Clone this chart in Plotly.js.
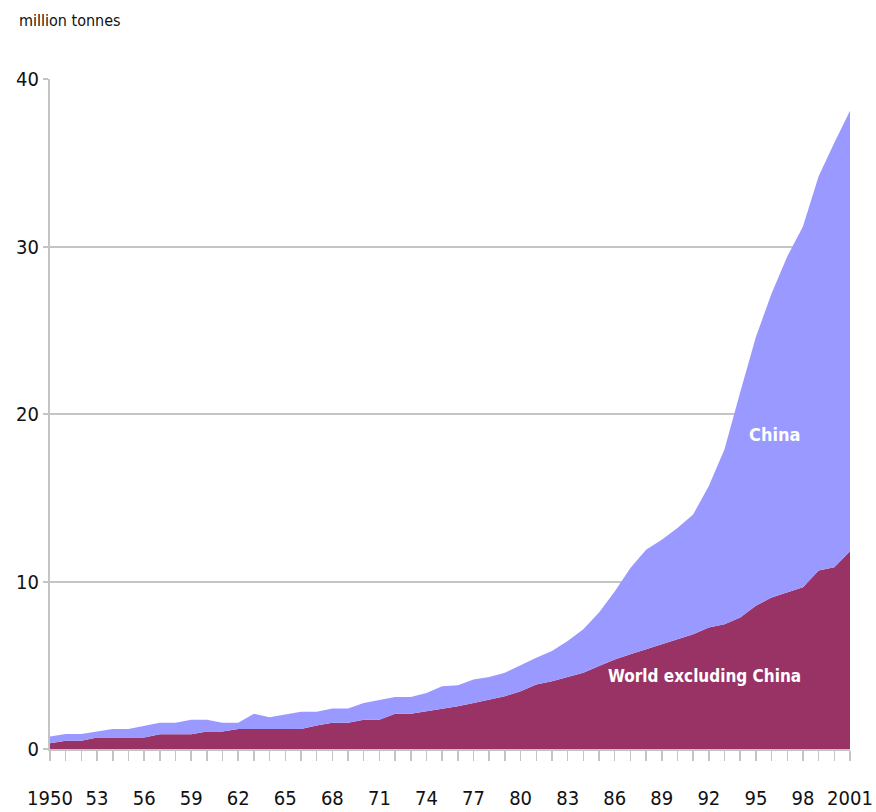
<!DOCTYPE html>
<html>
<head>
<meta charset="utf-8">
<script src="https://cdn.plot.ly/plotly-3.0.1.min.js"></script>
<style>
html,body{margin:0;padding:0;background:#fff;}
#chart{width:876px;height:812px;}
#chart svg text{font-stretch:condensed !important;}
</style>
</head>
<body>
<div id="chart"></div>
<script>
const years = [];
for (let y = 1950; y <= 2001; y++) years.push(y);

const worldExChina = [0.34,0.5,0.5,0.68,0.68,0.68,0.68,0.88,0.88,0.88,
  1.04,1.04,1.2,1.2,1.2,1.2,1.2,1.4,1.56,1.56,
  1.74,1.74,2.1,2.1,2.24,2.4,2.55,2.75,2.95,3.15,
  3.45,3.85,4.05,4.3,4.55,4.95,5.35,5.65,5.95,6.25,
  6.55,6.85,7.25,7.45,7.85,8.55,9.05,9.35,9.65,10.65,
  10.85,11.8];

const total = [0.74,0.9,0.9,1.04,1.2,1.2,1.4,1.56,1.56,1.74,
  1.74,1.56,1.56,2.1,1.9,2.08,2.22,2.22,2.42,2.42,
  2.75,2.93,3.1,3.1,3.35,3.75,3.8,4.15,4.3,4.55,
  5.0,5.45,5.85,6.45,7.15,8.15,9.4,10.8,11.9,12.5,
  13.2,14.0,15.7,17.9,21.3,24.6,27.2,29.4,31.2,34.2,
  36.2,38.1];

const china = total.map((t, i) => +(t - worldExChina[i]).toFixed(2));

const labelYears = [1950,1953,1956,1959,1962,1965,1968,1971,1974,1977,1980,1983,1986,1989,1992,1995,1998,2001];
const labelText = ['1950','53','56','59','62','65','68','71','74','77','80','83','86','89','92','95','98','2001'];
const tickText = years.map(y => { const k = labelYears.indexOf(y); return k >= 0 ? labelText[k] : ''; });

const yTicks = [0,10,20,30,40];

const FONT = '"DejaVu Sans Condensed", "DejaVu Sans", sans-serif';

const traces = [
  {x: years, y: worldExChina, name: 'World excluding China', type: 'scatter', mode: 'lines',
   stackgroup: 'one', line: {width: 0, color: '#993366'}, fillcolor: '#993366', hoverinfo: 'skip'},
  {x: years, y: china, name: 'China', type: 'scatter', mode: 'lines',
   stackgroup: 'one', line: {width: 0, color: '#9999ff'}, fillcolor: '#9999ff', hoverinfo: 'skip'}
];

const layout = {
  width: 876, height: 812,
  margin: {l: 50, r: 26, t: 79, b: 63},
  paper_bgcolor: '#fff', plot_bgcolor: '#fff',
  showlegend: false,
  font: {family: FONT, color: '#111', size: 20},
  xaxis: {
    range: [1950, 2001], tickvals: years, ticktext: tickText,
    ticks: 'outside', ticklen: 10, tickwidth: 1.5, tickcolor: '#c4c4c4',
    showgrid: false, zeroline: false, showline: true, linecolor: '#c4c4c4', linewidth: 2,
    tickangle: 0, ticklabelstandoff: 20,
    tickfont: {family: FONT, size: 20, color: '#111'}, fixedrange: true
  },
  yaxis: {
    range: [0, 40], tickvals: yTicks, ticktext: yTicks.map(String),
    ticks: 'outside', ticklen: 5, tickwidth: 2, tickcolor: '#c4c4c4',
    showgrid: true, gridcolor: '#c4c4c4', gridwidth: 2,
    zeroline: false, showline: true, linecolor: '#c4c4c4', linewidth: 2,
    tickfont: {family: FONT, size: 20, color: '#111'}, fixedrange: true
  },
  annotations: [
    {xref: 'paper', yref: 'paper', x: -0.041, y: 1.088, xanchor: 'left', yanchor: 'middle',
     text: 'million tonnes', showarrow: false, font: {family: FONT, size: 16, color: '#111'}},
    {x: 1996.2, y: 18.8, text: 'China', showarrow: false,
     font: {family: FONT, size: 18, color: '#fff', weight: 'bold'}},
    {x: 1991.75, y: 4.35, text: 'World excluding China', showarrow: false,
     font: {family: FONT, size: 17, color: '#fff', weight: 'bold'}}
  ]
};

Plotly.newPlot('chart', traces, layout, {displayModeBar: false, staticPlot: true});
</script>
</body>
</html>
